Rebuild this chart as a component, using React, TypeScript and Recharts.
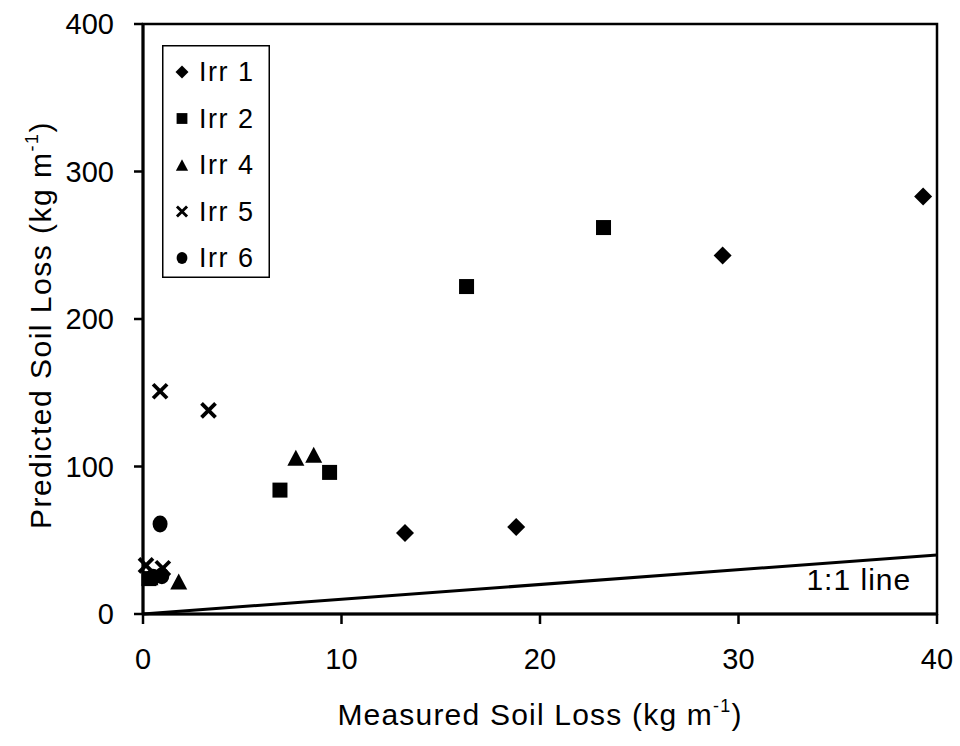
import {
  ScatterChart,
  Scatter,
  XAxis,
  YAxis,
  ReferenceLine,
  ReferenceArea,
  ReferenceDot,
  Legend,
} from "recharts";

const FONT = "'Liberation Sans', Arial, sans-serif";

const X_TICKS = [0, 10, 20, 30, 40];
const Y_TICKS = [0, 100, 200, 300, 400];

const irr1 = [
  { x: 13.2, y: 55 },
  { x: 18.8, y: 59 },
  { x: 29.2, y: 243 },
  { x: 39.3, y: 283 },
];
const irr2 = [
  { x: 0.3, y: 24 },
  { x: 6.9, y: 84 },
  { x: 9.4, y: 96 },
  { x: 16.3, y: 222 },
  { x: 23.2, y: 262 },
];
const irr4 = [
  { x: 0.35, y: 25 },
  { x: 1.8, y: 22 },
  { x: 7.7, y: 106 },
  { x: 8.6, y: 108 },
];
const irr5 = [
  { x: 0.15, y: 33 },
  { x: 1.0, y: 31 },
  { x: 0.86, y: 151 },
  { x: 3.3, y: 138 },
];
const irr6 = [
  { x: 0.5, y: 25 },
  { x: 0.95, y: 26 },
  { x: 0.86, y: 61 },
];

const ONE_TO_ONE = [
  { x: 0, y: 0 },
  { x: 40, y: 40 },
];
const ONE_TO_ONE_LABEL = { x: 38.7, y: 16.5, text: "1:1 line" };

type Kind = "diamond" | "square" | "triangle" | "x" | "circle";

const SERIES: { name: string; data: { x: number; y: number }[]; kind: Kind }[] = [
  { name: "Irr 1", data: irr1, kind: "diamond" },
  { name: "Irr 2", data: irr2, kind: "square" },
  { name: "Irr 4", data: irr4, kind: "triangle" },
  { name: "Irr 5", data: irr5, kind: "x" },
  { name: "Irr 6", data: irr6, kind: "circle" },
];

function Marker({ kind, cx, cy, s = 1 }: { kind: Kind; cx: number; cy: number; s?: number }) {
  if (cx == null || cy == null) return null;
  switch (kind) {
    case "diamond": {
      const r = 9 * s;
      return <polygon points={`${cx},${cy - r} ${cx + r},${cy} ${cx},${cy + r} ${cx - r},${cy}`} fill="#000" />;
    }
    case "square": {
      const h = 7.5 * s;
      return <rect x={cx - h} y={cy - h} width={h * 2} height={h * 2} fill="#000" />;
    }
    case "triangle": {
      const w = 8.5 * s;
      const h = 8 * s;
      return <polygon points={`${cx},${cy - h} ${cx + w},${cy + h} ${cx - w},${cy + h}`} fill="#000" />;
    }
    case "x": {
      const h = 7 * s;
      return (
        <g stroke="#000" strokeWidth={3.8 * Math.max(s, 0.75)}>
          <line x1={cx - h} y1={cy - h} x2={cx + h} y2={cy + h} />
          <line x1={cx - h} y1={cy + h} x2={cx + h} y2={cy - h} />
        </g>
      );
    }
    default:
      return <ellipse cx={cx} cy={cy} rx={7.5 * s} ry={8.5 * s} fill="#000" />;
  }
}

function LegendBox() {
  return (
    <svg width={108} height={233} style={{ display: "block" }}>
      <rect x={0.75} y={0.75} width={106.5} height={231.5} fill="#fff" stroke="#000" strokeWidth={1.5} />
      {SERIES.map((s, i) => {
        const y = 27 + i * 46.5;
        return (
          <g key={s.name}>
            <Marker kind={s.kind} cx={20} cy={y} s={0.72} />
            <text x={37} y={y + 9} fontSize={27} letterSpacing={1.5} fontFamily={FONT} fill="#000">
              {s.name}
            </text>
          </g>
        );
      })}
    </svg>
  );
}

function XTitle({ viewBox }: any) {
  const cx = viewBox.x + viewBox.width / 2;
  return (
    <text
      x={cx}
      y={viewBox.y + 111}
      textAnchor="middle"
      fontSize={30}
      letterSpacing={1.2}
      fontFamily={FONT}
      fill="#000"
    >
      Measured Soil Loss (kg m
      <tspan fontSize={18} dy={-13}>-1</tspan>
      <tspan dy={13}>)</tspan>
    </text>
  );
}

function YTitle({ viewBox }: any) {
  const cy = viewBox.y + viewBox.height / 2 + 6;
  const x = 51;
  return (
    <text
      x={x}
      y={cy}
      textAnchor="middle"
      fontSize={30}
      letterSpacing={1.5}
      fontFamily={FONT}
      fill="#000"
      transform={`rotate(-90, ${x}, ${cy})`}
    >
      Predicted Soil Loss (kg m
      <tspan fontSize={18} dy={-13}>-1</tspan>
      <tspan dy={13}>)</tspan>
    </text>
  );
}

function LineLabel({ viewBox }: any) {
  return (
    <text
      x={viewBox.x}
      y={viewBox.y}
      textAnchor="end"
      fontSize={30}
      letterSpacing={1}
      fontFamily={FONT}
      fill="#000"
    >
      {ONE_TO_ONE_LABEL.text}
    </text>
  );
}

export default function App() {
  return (
    <div style={{ position: "absolute", left: 0, top: 0, background: "#fff" }}>
      <ScatterChart
        width={960}
        height={746}
        margin={{ top: 24, right: 23, left: 0, bottom: 0 }}
        style={{ fontFamily: FONT }}
      >
        <XAxis
          type="number"
          dataKey="x"
          domain={[0, 40]}
          ticks={X_TICKS}
          height={132}
          tickSize={10}
          tickMargin={24}
          tick={{ fontSize: 29, fill: "#000" }}
          axisLine={{ stroke: "#000", strokeWidth: 3 }}
          tickLine={{ stroke: "#000", strokeWidth: 2.5 }}
          label={<XTitle />}
        />
        <YAxis
          type="number"
          dataKey="y"
          domain={[0, 400]}
          ticks={Y_TICKS}
          width={143}
          tickSize={9}
          tickMargin={20}
          tick={{ fontSize: 29, fill: "#000" }}
          axisLine={{ stroke: "#000", strokeWidth: 3 }}
          tickLine={{ stroke: "#000", strokeWidth: 2.5 }}
          label={<YTitle />}
        />
        <ReferenceArea x1={0} x2={40} y1={0} y2={400} fill="none" stroke="#000" strokeWidth={2.5} />
        <ReferenceLine segment={ONE_TO_ONE} stroke="#000" strokeWidth={3} ifOverflow="visible" />
        <ReferenceDot
          x={ONE_TO_ONE_LABEL.x}
          y={ONE_TO_ONE_LABEL.y}
          r={0}
          fill="none"
          stroke="none"
          label={<LineLabel />}
        />
        {SERIES.map((s) => (
          <Scatter
            key={s.name}
            name={s.name}
            data={s.data}
            isAnimationActive={false}
            shape={(p: any) => <Marker kind={s.kind} cx={p.cx} cy={p.cy} />}
          />
        ))}
        <Legend
          layout="vertical"
          align="center"
          verticalAlign="middle"
          wrapperStyle={{ left: 162, top: 45, width: 108, height: 233 }}
          content={() => <LegendBox />}
        />
      </ScatterChart>
    </div>
  );
}
